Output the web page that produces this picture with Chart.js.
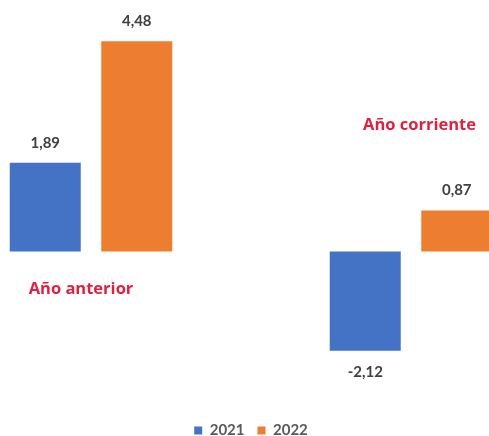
<!DOCTYPE html>
<html>
<head>
<meta charset="utf-8">
<script src="https://cdn.jsdelivr.net/npm/chart.js@4.4.1/dist/chart.umd.min.js"></script>
<style>
  html, body { margin: 0; padding: 0; background: #fff; overflow: hidden; width: 489px; height: 436px; }
  #wrap { position: absolute; left: -69px; top: 0; width: 640px; height: 460px; }
</style>
</head>
<body>
<div id="wrap"><canvas id="c" width="640" height="448"></canvas></div>
<script>
const categories = ['Año anterior', 'Año corriente'];
const seriesNames = ['2021', '2022'];
const values2021 = [1.89, -2.12];
const values2022 = [4.48, 0.87];

const fmt = v => v.toFixed(2).replace('.', ',');

const valueLabels = {
  id: 'valueLabels',
  afterDatasetsDraw(chart) {
    const ctx = chart.ctx;
    ctx.save();
    ctx.font = 'bold 15px Lato, "Liberation Sans", sans-serif';
    ctx.fillStyle = '#404040';
    ctx.textAlign = 'center';
    ctx.textBaseline = 'middle';
    chart.data.datasets.forEach((ds, di) => {
      const meta = chart.getDatasetMeta(di);
      meta.data.forEach((bar, i) => {
        const v = ds.data[i];
        const y = v >= 0 ? bar.y - 20 : bar.y + 21;
        ctx.fillText(fmt(v), bar.x, y);
      });
    });
    ctx.restore();
  }
};

const categoryNotes = {
  id: 'categoryNotes',
  afterDatasetsDraw(chart, args, opts) {
    const ctx = chart.ctx;
    const xs = chart.scales.x, ys = chart.scales.y;
    ctx.save();
    ctx.font = 'bold 16.5px "Open Sans", Lato, sans-serif';
    ctx.fillStyle = '#E0203F';
    ctx.textAlign = 'center';
    ctx.textBaseline = 'middle';
    categories.forEach((name, i) => {
      const p = opts.positions[i];
      ctx.fillText(name, xs.getPixelForValue(i) + p.dx, ys.getPixelForValue(p.v));
    });
    ctx.restore();
  }
};

new Chart(document.getElementById('c'), {
  type: 'bar',
  data: {
    labels: categories,
    datasets: [
      { label: seriesNames[0], data: values2021, backgroundColor: '#4472C4', borderWidth: 0 },
      { label: seriesNames[1], data: values2022, backgroundColor: '#ED7D31', borderWidth: 0 }
    ]
  },
  options: {
    responsive: false,
    animation: false,
    devicePixelRatio: 1,
    layout: { padding: 0 },
    categoryPercentage: 0.572,
    barPercentage: 0.776,
    scales: {
      x: { display: false },
      y: { display: false, min: -3.383, max: 5.362 }
    },
    plugins: {
      tooltip: { enabled: false },
      legend: {
        position: 'bottom',
        labels: {
          boxWidth: 8,
          boxHeight: 8,
          padding: 13,
          color: '#595959',
          font: { family: 'Lato, "Liberation Sans", sans-serif', size: 15, weight: 'bold' }
        }
      },
      categoryNotes: {
        positions: [ { dx: -10, v: -0.81 }, { dx: 8.5, v: 2.70 } ]
      }
    }
  },
  plugins: [valueLabels, categoryNotes]
});
</script>
</body>
</html>
